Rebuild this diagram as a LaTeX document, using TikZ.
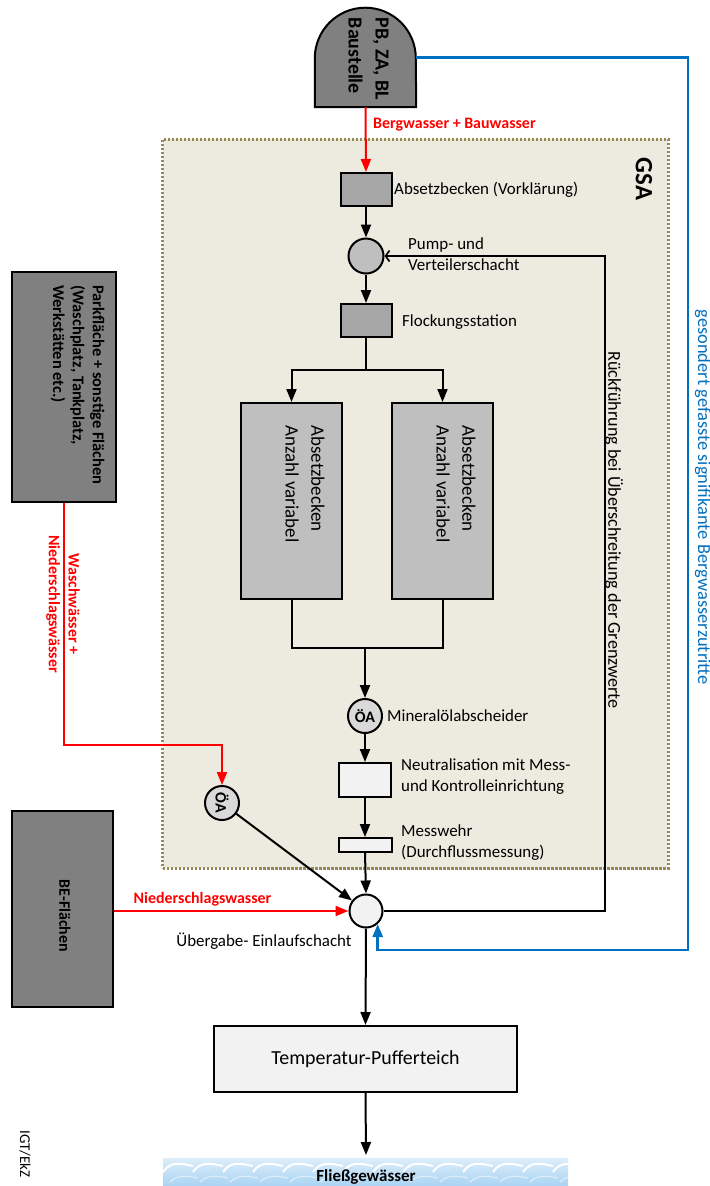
\documentclass[tikz,border=0pt]{standalone}
\usepackage{fontspec}
\setmainfont{Carlito}
\usetikzlibrary{arrows.meta,calc}
\definecolor{dgray}{HTML}{808080}
\definecolor{mgray}{HTML}{A6A6A6}
\definecolor{lgray}{HTML}{BFBFBF}
\definecolor{oagray}{HTML}{D9D9D9}
\definecolor{wgray}{HTML}{F2F2F2}
\definecolor{gsafill}{HTML}{EDEBE0}
\definecolor{gsaline}{HTML}{938953}
\definecolor{bluel}{HTML}{0070C0}
\definecolor{redl}{HTML}{FF0000}
\definecolor{wave}{HTML}{A9D3F2}
\tikzset{
  box/.style={draw=black, line width=2bp, rectangle, inner sep=0pt},
  circ/.style={draw=black, line width=2bp, circle, inner sep=0pt, minimum size=34bp},
  conn/.style={draw=black, line width=2bp},
  arr/.style={conn, -{Triangle[length=13bp,width=10bp]}},
  redarr/.style={draw=redl, line width=2bp, -{Triangle[length=13bp,width=10bp]}},
  bluearr/.style={draw=bluel, line width=2.6bp, -{Triangle[length=13bp,width=10bp]}},
  backarr/.style={conn, line width=1.7bp, -{Straight Barb[length=4bp,width=11bp]}},
  lbl/.style={font=\fontsize{17}{21}\selectfont, inner sep=0pt, align=left},
  blbl/.style={font=\bfseries\fontsize{16}{20}\selectfont, inner sep=0pt, align=left},
  redlbl/.style={blbl, text=redl},
}
\begin{document}
\begin{tikzpicture}[x=1bp,y=-1bp]
\useasboundingbox (0,0) rectangle (710,1186);
\fill[white] (0,0) rectangle (710,1186);

% GSA container
\node[fill=gsafill, draw=gsaline, line width=3bp, dash pattern=on 2.5bp off 1.5bp,
      minimum width=505bp, minimum height=729bp, inner sep=0pt] (gsa) at (415.5,503.5) {};
\node[font=\bfseries\fontsize{25}{28}\selectfont, rotate=-90, inner sep=0pt] (gsalbl) at (644,179) {GSA};

% source dome
\node[minimum width=101bp, minimum height=99bp, inner sep=0pt] (src) at (365.5,57.5) {};
\draw[fill=dgray, line width=2bp] (src.south west) -- ($(src.south west)+(0,-49)$)
   arc[start angle=180, end angle=0, radius=50.5bp] -- (src.south east) -- cycle;
\node[font=\bfseries\fontsize{20}{27}\selectfont, rotate=-90, align=left, inner sep=0pt] (srclbl) at (368.5,59) {PB, ZA, BL\\Baustelle};

% main column
\node[box, fill=mgray, minimum width=51bp, minimum height=33bp] (av) at (366,189.5) {};
\node[circ, fill=lgray, minimum size=35bp] (pump) at (366,256) {};
\node[box, fill=mgray, minimum width=51bp, minimum height=33bp] (flock) at (366,320.5) {};
\node[box, fill=lgray, minimum width=101bp, minimum height=196bp] (abL) at (291.5,501) {};
\node[box, fill=lgray, minimum width=101bp, minimum height=196bp] (abR) at (442.5,501) {};
\node[font=\fontsize{19}{26}\selectfont, rotate=-90, align=left, inner sep=0pt] (abLt) at (305,484) {Absetzbecken\\Anzahl variabel};
\node[font=\fontsize{19}{26}\selectfont, rotate=-90, align=left, inner sep=0pt] (abRt) at (456,484) {Absetzbecken\\Anzahl variabel};
\node[circ, fill=oagray, font=\bfseries\fontsize{16}{18}\selectfont] (oa1) at (365,716) {ÖA};
\node[box, fill=wgray, minimum width=52bp, minimum height=34bp] (neut) at (365,780) {};
\node[box, fill=wgray, minimum width=53bp, minimum height=14bp] (mess) at (365,845) {};
\node[circ, fill=wgray, minimum size=33bp] (ueb) at (366,911) {};
\node[box, fill=wgray, minimum width=303bp, minimum height=66bp, font=\fontsize{20}{24}\selectfont] (temp) at (365.5,1059) {Temperatur-Pufferteich};

% left side
\node[box, fill=dgray, minimum width=104bp, minimum height=230bp] (park) at (64,387) {};
\node[blbl, font=\bfseries\fontsize{16.5}{20}\selectfont, rotate=-90] (parkt) at (77.5,385) {Parkfläche + sonstige Flächen\\(Waschplatz, Tankplatz,\\Werkstätten etc.)};
\node[box, fill=dgray, minimum width=101bp, minimum height=196bp] (be) at (62.5,909) {};
\node[blbl, rotate=-90] (bet) at (65,916) {BE-Flächen};
\node[circ, fill=oagray, font=\bfseries\fontsize{16}{18}\selectfont] (oa2) at (222,803) {\rotatebox{-90}{ÖA}};

% Fliessgewaesser
\begin{scope}
  \clip (163,1158) rectangle (568,1186);
  \shade[top color=wave!40, bottom color=wave] (163,1158) rectangle (568,1186);
  \foreach \i in {0,...,13} {
    \draw[white, line width=2bp] (163+30*\i,1172) .. controls +(8,-12) and +(-10,-2) .. ++(30,-6);
    \draw[white!60!wave, line width=1.2bp] (170+30*\i,1182) .. controls +(8,-8) and +(-10,-2) .. ++(28,-4);
  }
\end{scope}
\node[minimum width=405bp, minimum height=28bp, inner sep=0pt] (fluss) at (365.5,1172) {};
\node[font=\bfseries\fontsize{17}{20}\selectfont, inner sep=0pt] (flusst) at (366,1177) {Fließgewässer};

% connectors
\draw[redarr] (src.south) -- (av.north);
\draw[arr] (av.south) -- (pump.north);
\draw[arr] (pump.south) -- (flock.north);
\coordinate (split) at (366,370);
\draw[conn] (flock.south) -- (split);
\draw[arr] (split) -| (abL.north);
\draw[arr] (split) -| (abR.north);
\coordinate (join) at (365,648);
\draw[conn] (abL.south) |- (join);
\draw[conn] (abR.south) |- (join);
\draw[arr] (join) -- (oa1.north);
\draw[arr] (oa1.south) -- (neut.north);
\draw[arr] (neut.south) -- (mess.north);
\draw[arr] (mess.south) -- (ueb.north);
\draw[arr] (oa2) -- (ueb);
\draw[arr] (ueb.south) -- (temp.north);
\coordinate (fin) at (366,1155);
\draw[arr] (temp.south) -- (fin);
\coordinate (backc) at (605,256);
\draw[backarr] (ueb.east) -| (backc) -- (pump.east);
\coordinate (parkc) at (222,745);
\draw[redarr] (park.south) |- (parkc) -- (oa2.north);
\draw[redarr] (be.east |- ueb.west) -- (ueb.west);
\coordinate (bluec) at (688,950);
\draw[bluearr] (src.east) -| (bluec) -| (ueb.-48);

% labels
\node[redlbl, anchor=west] (l1) at (373,125) {Bergwasser + Bauwasser};
\node[lbl, anchor=west] (l2) at (394,190) {Absetzbecken (Vorklärung)};
\node[lbl, anchor=west] (l3) at (408,254) {Pump- und\\Verteilerschacht};
\node[lbl, anchor=west] (l4) at (402,322) {Flockungsstation};
\node[lbl, anchor=west] (l5) at (387,716) {Mineralölabscheider};
\node[lbl, anchor=west] (l6) at (401,777) {Neutralisation mit Mess-\\und Kontrolleinrichtung};
\node[lbl, anchor=west] (l7) at (401,843) {Messwehr\\(Durchflussmessung)};
\node[lbl] (l8) at (264,941) {Übergabe- Einlaufschacht};
\node[redlbl] (l9) at (202.5,899) {Niederschlagswasser};
\node[redlbl, rotate=-90, align=center] (l10) at (63,604) {Waschwässer +\\Niederschlagswässer};
\node[lbl, font=\fontsize{18.2}{22}\selectfont, rotate=-90] (l11) at (614,530) {Rückführung bei Überschreitung der Grenzwerte};
\node[lbl, font=\fontsize{18.5}{22}\selectfont, rotate=-90, text=bluel] (l12) at (703,497) {gesondert gefasste signifikante Bergwasserzutritte};
\node[font=\fontsize{15}{18}\selectfont, rotate=-90, inner sep=0pt] (igt) at (25,1154) {IGT/EkZ};
\end{tikzpicture}
\end{document}
